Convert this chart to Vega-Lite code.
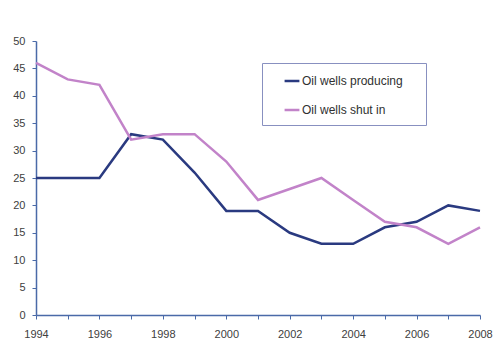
{
  "$schema": "https://vega.github.io/schema/vega-lite/v6.json",
  "width": 444,
  "height": 274,
  "autosize": {"type": "none"},
  "padding": {"left": 36, "top": 41, "right": 16, "bottom": 26},
  "background": "white",
  "config": {
    "view": {"stroke": null},
    "font": "Liberation Sans",
    "axis": {"grid": false, "domainColor": "#4a6aa8", "tickColor": "#4a6aa8", "labelColor": "#404040", "labelFontSize": 11, "domainWidth": 1.5}
  },
  "data": {
    "values": [
      {"year": 1994, "series": "Oil wells producing", "value": 25},
      {"year": 1995, "series": "Oil wells producing", "value": 25},
      {"year": 1996, "series": "Oil wells producing", "value": 25},
      {"year": 1997, "series": "Oil wells producing", "value": 33},
      {"year": 1998, "series": "Oil wells producing", "value": 32},
      {"year": 1999, "series": "Oil wells producing", "value": 26},
      {"year": 2000, "series": "Oil wells producing", "value": 19},
      {"year": 2001, "series": "Oil wells producing", "value": 19},
      {"year": 2002, "series": "Oil wells producing", "value": 15},
      {"year": 2003, "series": "Oil wells producing", "value": 13},
      {"year": 2004, "series": "Oil wells producing", "value": 13},
      {"year": 2005, "series": "Oil wells producing", "value": 16},
      {"year": 2006, "series": "Oil wells producing", "value": 17},
      {"year": 2007, "series": "Oil wells producing", "value": 20},
      {"year": 2008, "series": "Oil wells producing", "value": 19},
      {"year": 1994, "series": "Oil wells shut in", "value": 46},
      {"year": 1995, "series": "Oil wells shut in", "value": 43},
      {"year": 1996, "series": "Oil wells shut in", "value": 42},
      {"year": 1997, "series": "Oil wells shut in", "value": 32},
      {"year": 1998, "series": "Oil wells shut in", "value": 33},
      {"year": 1999, "series": "Oil wells shut in", "value": 33},
      {"year": 2000, "series": "Oil wells shut in", "value": 28},
      {"year": 2001, "series": "Oil wells shut in", "value": 21},
      {"year": 2002, "series": "Oil wells shut in", "value": 23},
      {"year": 2003, "series": "Oil wells shut in", "value": 25},
      {"year": 2004, "series": "Oil wells shut in", "value": 21},
      {"year": 2005, "series": "Oil wells shut in", "value": 17},
      {"year": 2006, "series": "Oil wells shut in", "value": 16},
      {"year": 2007, "series": "Oil wells shut in", "value": 13},
      {"year": 2008, "series": "Oil wells shut in", "value": 16}
    ]
  },
  "mark": {"type": "line", "strokeWidth": 2.5},
  "encoding": {
    "x": {
      "field": "year", "type": "quantitative",
      "scale": {"domain": [1994, 2008], "nice": false, "zero": false},
      "axis": {"title": null, "values": [1994,1995,1996,1997,1998,1999,2000,2001,2002,2003,2004,2005,2006,2007,2008], "labelExpr": "datum.value % 2 == 0 ? datum.value : ''", "format": "d", "tickSize": 4, "labelPadding": 9, "labelFlush": false, "labelOverlap": false}
    },
    "y": {
      "field": "value", "type": "quantitative",
      "scale": {"domain": [0, 50], "nice": false},
      "axis": {"title": null, "values": [0,5,10,15,20,25,30,35,40,45,50], "tickSize": 4, "labelPadding": 7, "labelFlush": false}
    },
    "color": {
      "field": "series", "type": "nominal",
      "scale": {"domain": ["Oil wells producing", "Oil wells shut in"], "range": ["#2a3a80", "#c283c9"]},
      "legend": {
        "title": null, "orient": "none", "legendX": 226, "legendY": 22,
        "strokeColor": "#8890c0", "fillColor": "white", "padding": 9,
        "symbolType": "stroke", "symbolSize": 220, "symbolStrokeWidth": 2.5, "symbolOffset": 12,
        "labelFontSize": 12, "labelColor": "#303030", "labelOffset": 1,
        "labelExpr": "datum.label + '\u00a0\u00a0\u00a0\u00a0\u200b'",
        "rowPadding": 14, "labelLimit": 250
      }
    }
  }
}
